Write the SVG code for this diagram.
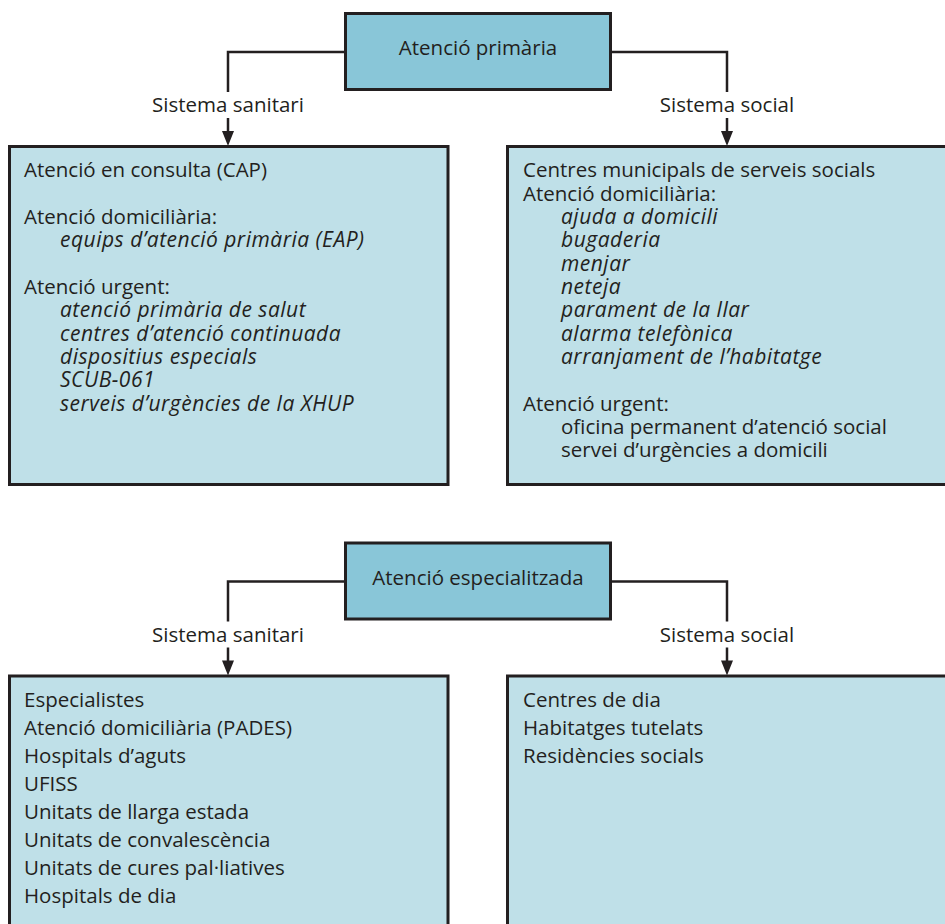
<svg xmlns="http://www.w3.org/2000/svg" width="945" height="924" viewBox="0 0 945 924">
<style>
  .title { fill: #89C6D8; stroke: #231F20; stroke-width: 3; }
  .box { fill: #BFE0E8; stroke: #231F20; stroke-width: 3; }
  text { font-family: "Open Sans", "Noto Sans", sans-serif; font-size: 20.5px; fill: #231F20; }
  .c { text-anchor: middle; }
  .i { font-style: italic; font-size: 21px; letter-spacing: 0.5px; }
  .conn { fill: none; stroke: #231F20; stroke-width: 2.5; }
  .head { fill: #231F20; }
</style>
<rect width="945" height="924" fill="#FFFFFF"/>

<g id="connectors">
  <path class="conn" d="M345,52 H228 V92"/>
  <path class="conn" d="M228,118 V133"/>
  <path class="head" d="M222,131 L234,131 L228,146 Z"/>
  <path class="conn" d="M610,52 H727 V92"/>
  <path class="conn" d="M727,118 V133"/>
  <path class="head" d="M721,131 L733,131 L727,146 Z"/>
  <text class="c" x="228" y="112">Sistema sanitari</text>
  <text class="c" x="727" y="112">Sistema social</text>

  <path class="conn" d="M345,581.5 H228 V621.5"/>
  <path class="conn" d="M228,647.5 V662.5"/>
  <path class="head" d="M222,660.5 L234,660.5 L228,675.5 Z"/>
  <path class="conn" d="M610,581.5 H727 V621.5"/>
  <path class="conn" d="M727,647.5 V662.5"/>
  <path class="head" d="M721,660.5 L733,660.5 L727,675.5 Z"/>
  <text class="c" x="228" y="641.5">Sistema sanitari</text>
  <text class="c" x="727" y="641.5">Sistema social</text>
</g>

<g id="primaria">
  <rect class="title" x="345.5" y="13.5" width="265" height="76"/>
  <text class="c" x="478" y="55">Atenció primària</text>
</g>

<g id="primaria-sanitari">
  <rect class="box" x="9.5" y="146.5" width="438.5" height="338"/>
  <text x="24" y="177.3">Atenció en consulta (CAP)</text>
  <text x="24" y="224">Atenció domiciliària:</text>
  <text class="i" x="60" y="247.3">equips d’atenció primària (EAP)</text>
  <text x="24" y="294">Atenció urgent:</text>
  <text class="i" x="60" y="317.3">atenció primària de salut</text>
  <text class="i" x="60" y="340.6">centres d’atenció continuada</text>
  <text class="i" x="60" y="364">dispositius especials</text>
  <text class="i" x="60" y="387.3">SCUB-061</text>
  <text class="i" x="60" y="410.6">serveis d’urgències de la XHUP</text>
</g>

<g id="primaria-social">
  <rect class="box" x="507.5" y="146.5" width="442" height="338"/>
  <text x="523" y="177.3">Centres municipals de serveis socials</text>
  <text x="523" y="200.6">Atenció domiciliària:</text>
  <text class="i" x="561" y="224">ajuda a domicili</text>
  <text class="i" x="561" y="247.3">bugaderia</text>
  <text class="i" x="561" y="270.6">menjar</text>
  <text class="i" x="561" y="294">neteja</text>
  <text class="i" x="561" y="317.3">parament de la llar</text>
  <text class="i" x="561" y="340.6">alarma telefònica</text>
  <text class="i" x="561" y="364">arranjament de l’habitatge</text>
  <text x="523" y="410.6">Atenció urgent:</text>
  <text x="561" y="434">oficina permanent d’atenció social</text>
  <text x="561" y="457.3">servei d’urgències a domicili</text>
</g>

<g id="especialitzada">
  <rect class="title" x="345.5" y="543" width="265" height="76"/>
  <text class="c" x="478" y="585">Atenció especialitzada</text>
</g>

<g id="especialitzada-sanitari">
  <rect class="box" x="9.5" y="676" width="438.5" height="260"/>
  <text x="24" y="707.3">Especialistes</text>
  <text x="24" y="735.2">Atenció domiciliària (PADES)</text>
  <text x="24" y="763.1">Hospitals d’aguts</text>
  <text x="24" y="791">UFISS</text>
  <text x="24" y="818.9">Unitats de llarga estada</text>
  <text x="24" y="846.8">Unitats de convalescència</text>
  <text x="24" y="874.7">Unitats de cures pal·liatives</text>
  <text x="24" y="902.6">Hospitals de dia</text>
</g>

<g id="especialitzada-social">
  <rect class="box" x="507.5" y="676" width="442" height="260"/>
  <text x="523" y="707.3">Centres de dia</text>
  <text x="523" y="735.2">Habitatges tutelats</text>
  <text x="523" y="763.1">Residències socials</text>
</g>
</svg>
